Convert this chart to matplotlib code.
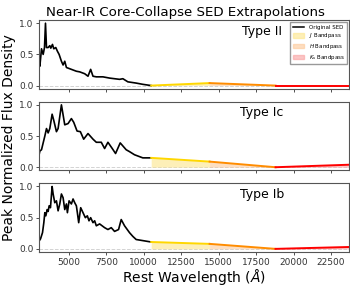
import matplotlib
matplotlib.use('Agg')
import matplotlib.pyplot as plt
from matplotlib.lines import Line2D
from matplotlib.patches import Patch
import numpy as np

# Observed SED samples (wavelength in Angstrom, peak-normalised flux)
wave_ii = [3000, 3067, 3177, 3288, 3377, 3443, 3510, 3620, 3731, 3798, 3909, 3997,
           4130, 4241, 4352, 4507, 4618, 4729, 4840, 5062, 5505, 5727, 6060, 6281,
           6458, 6614, 6836, 7279, 7722, 8387, 8609, 8942, 9496, 9940, 10500]
flux_ii = [0.39, 0.31, 0.59, 0.50, 0.61, 1.00, 0.61, 0.61, 0.64, 0.60, 0.66, 0.59,
           0.61, 0.55, 0.50, 0.39, 0.33, 0.39, 0.29, 0.27, 0.23, 0.22, 0.19, 0.15,
           0.26, 0.15, 0.14, 0.14, 0.12, 0.10, 0.11, 0.06, 0.04, 0.02, 0.0]

wave_ic = [3000, 3067, 3177, 3288, 3400, 3510, 3620, 3731, 3886, 3997, 4174, 4285,
           4507, 4729, 4950, 5172, 5328, 5550, 5771, 5993, 6281, 6614, 6836, 7168,
           7390, 7611, 7900, 8121, 8431, 8830, 9052, 9385, 9717, 9940, 10500]
flux_ic = [0.18, 0.26, 0.28, 0.39, 0.50, 0.62, 0.55, 0.62, 0.85, 0.75, 0.57, 0.62,
           1.00, 0.68, 0.70, 0.78, 0.72, 0.58, 0.57, 0.45, 0.54, 0.45, 0.40, 0.40,
           0.30, 0.40, 0.30, 0.22, 0.39, 0.28, 0.25, 0.20, 0.17, 0.15, 0.15]

wave_ib = [3000, 3111, 3244, 3332, 3399, 3465, 3554, 3620, 3687, 3775, 3886, 3953,
           4063, 4174, 4285, 4396, 4507, 4618, 4729, 4840, 4906, 5017, 5172, 5283,
           5394, 5505, 5571, 5660, 5793, 5948, 6104, 6237, 6347, 6458, 6614, 6725,
           6836, 7057, 7390, 7611, 7833, 8054, 8321, 8498, 8720, 9052, 9274, 9496,
           10500]
flux_ib = [0.12, 0.16, 0.26, 0.42, 0.58, 0.53, 0.63, 0.60, 0.69, 0.66, 1.00, 0.88,
           0.74, 0.77, 0.61, 0.72, 0.88, 0.82, 0.63, 0.72, 0.58, 0.77, 0.72, 0.80,
           0.74, 0.69, 0.58, 0.42, 0.66, 0.58, 0.50, 0.53, 0.45, 0.50, 0.42, 0.45,
           0.37, 0.40, 0.34, 0.31, 0.34, 0.28, 0.31, 0.47, 0.37, 0.26, 0.20, 0.15,
           0.11]

# Extrapolation nodes at the band edges
band_edges = [10500, 14400, 18800, 23700]
band_ii = [0.0, 0.04, 0.0, 0.0]
band_ic = [0.15, 0.09, 0.0, 0.04]
band_ib = [0.11, 0.08, 0.0, 0.03]

type_names = ['Type II', 'Type Ic', 'Type Ib']
band_names = ['$J$ Bandpass', '$H$ Bandpass', '$K_s$ Bandpass']
band_lines = ['gold', 'darkorange', 'red']
band_fills = ['#fde58a', '#fdc898', '#f9a0a0']

seds = [(wave_ii, flux_ii, band_ii), (wave_ic, flux_ic, band_ic), (wave_ib, flux_ib, band_ib)]

fig, axes = plt.subplots(3, 1, figsize=(3.5, 2.87), dpi=100, sharex=True)
fig.subplots_adjust(left=0.111, right=0.997, top=0.93, bottom=0.122, hspace=0.19)

for ax, (w, f, b), name in zip(axes, seds, type_names):
    ax.axhline(0, color='lightgray', ls='--', lw=0.7, zorder=0)
    ax.plot(w, f, color='black', lw=1.2)
    for i in range(3):
        xs = band_edges[i:i + 2]
        ys = b[i:i + 2]
        ax.fill_between(xs, 0, ys, color=band_fills[i], alpha=0.6, lw=0)
        ax.plot(xs, ys, color=band_lines[i], lw=1.4)
    ax.set_xlim(3000, 23700)
    ax.set_ylim(-0.05, 1.05)
    ax.set_yticks([0.0, 0.5, 1.0])
    ax.text(0.72, 0.84, name, transform=ax.transAxes, ha='center', va='center', fontsize=9)
    ax.tick_params(labelsize=6.5, length=2.5, width=0.6, pad=1.5, colors='#333333')
    for sp in ax.spines.values():
        sp.set_color('#555555')
        sp.set_linewidth(0.8)

axes[-1].set_xticks([5000, 7500, 10000, 12500, 15000, 17500, 20000, 22500])
axes[-1].set_xlabel(r'Rest Wavelength ($\AA$)', fontsize=10, labelpad=0)

handles = [Line2D([], [], color='black', lw=1.1, label='Original SED')]
handles += [Patch(color=band_fills[i], alpha=0.6, label=band_names[i]) for i in range(3)]
axes[0].legend(handles=handles, loc='upper right', fontsize=4, frameon=True,
               handlelength=2.0, handleheight=0.9, borderpad=0.45, labelspacing=0.3,
               fancybox=False, edgecolor='#999999', framealpha=1, borderaxespad=0.35)

fig.text(0.53, 0.958, 'Near-IR Core-Collapse SED Extrapolations', ha='center', va='center',
         fontsize=9.6)
fig.text(0.025, 0.52, 'Peak Normalized Flux Density', rotation=90, ha='center', va='center',
         fontsize=10)

fig.savefig('out.png', dpi=100)
